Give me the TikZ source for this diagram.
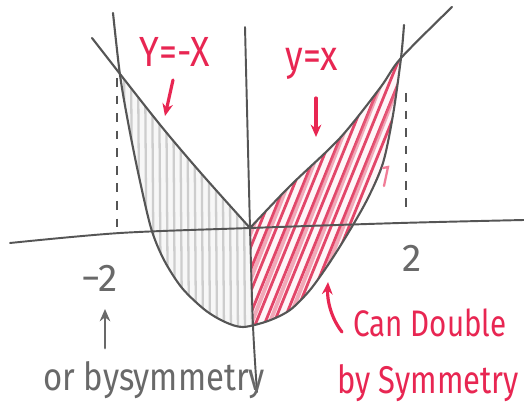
\documentclass[tikz,border=0pt]{standalone}
\usepackage{fontspec}
\setmainfont{Fira Sans}
\usetikzlibrary{arrows.meta}
\definecolor{hred}{RGB}{232,38,82}
\definecolor{ink}{RGB}{85,85,85}
\definecolor{gtext}{RGB}{105,105,105}
\definecolor{hatchg}{RGB}{205,205,205}
\definecolor{hatchr}{RGB}{222,40,80}
\tikzset{
  axisline/.style={draw=ink, line width=1.1pt, line cap=round},
  curveline/.style={draw=ink, line width=1.2pt, line cap=round},
  guide/.style={draw=ink, line width=1.1pt, dash pattern=on 5pt off 5pt},
  redlbl/.style={text=hred, inner sep=0pt},
  graylbl/.style={text=gtext, inner sep=0pt},
  redarrow/.style={draw=hred, line width=1.8pt, line cap=round, -{Stealth[length=7pt,width=6pt]}},
  grayarrow/.style={draw=gtext, line width=1.6pt, line cap=round, -{Stealth[length=7pt,width=6pt]}},
}
\begin{document}
\begin{tikzpicture}[x=0.02cm,y=-0.02cm]
\useasboundingbox (0,0) rectangle (524,411);
\fill[white] (0,0) rectangle (524,411);

% ---- gray shaded region (left) ----
\begin{scope}
  \clip plot[smooth] coordinates {(120,75) (157,121) (200,172) (250,228)}
        -- (253,326)
        -- plot[smooth] coordinates {(243,327) (225,322) (205,310) (182,288) (164,260) (151,228) (138,172) (128,122) (120,75)} -- cycle;
  \fill[black!3] (100,50) rectangle (260,340);
  \foreach \x in {124,131,...,252} {
    \draw[hatchg, line width=1.3pt] (\x,60) -- (\x+2,335);
  }
\end{scope}

% ---- red shaded region (right) ----
\begin{scope}
  \clip plot[smooth] coordinates {(250,228) (290,186) (340,138) (380,88) (401,58)}
        -- plot[smooth] coordinates {(401,58) (393,115) (383,163) (368,198) (350,230) (330,262) (310,290) (290,310) (268,321) (253,325)} -- cycle;
  \fill[hred!4] (240,40) rectangle (420,340);
  \foreach \x in {150,159,...,420} {
    \draw[hatchr, line width=1.6pt, opacity=0.85] (\x,340) -- (\x+130,20);
  }
  \foreach \x in {155,173,...,420} {
    \draw[hatchr!70!white, line width=2.2pt, opacity=0.55] (\x,340) -- (\x+125,20);
  }
\end{scope}

% ---- dashed guides ----
\coordinate (dl1) at (117,78);  \coordinate (dl2) at (117,232);
\coordinate (dr1) at (406,93);  \coordinate (dr2) at (406,214);
\draw[guide] (dl1) -- (dl2);
\draw[guide] (dr1) -- (dr2);

% ---- axes ----
\draw[axisline] plot[smooth] coordinates {(10,243) (120,233) (250,228) (400,223) (524,220)};
\draw[axisline] plot[smooth] coordinates {(245,27) (250,228) (253,326) (257,392)};

% ---- lines y=-x and y=x ----
\draw[curveline] plot[smooth] coordinates {(92,38) (157,121) (200,172) (250,228)};
\draw[curveline] plot[smooth] coordinates {(250,228) (290,186) (340,138) (380,88) (401,58) (452,7)};

% ---- parabola ----
\draw[curveline] plot[smooth] coordinates {(113,13) (120,75) (128,122) (138,172) (151,228) (164,260) (182,288) (205,310) (225,322) (243,327) (268,321) (290,310) (310,290) (330,262) (350,230) (368,198) (383,163) (393,115) (401,58) (404,25)};

% stray red mark
\draw[hred!60, line width=1.3pt, line cap=round] (383,168) -- (388,167) -- (384,186);

% ---- labels ----
\node[redlbl] (lneg) at (175,52) {\scalebox{0.85}[1]{\fontsize{24}{24}\selectfont Y=-X}};
\node[redlbl] (lpos) at (312,64) {\scalebox{0.85}[1]{\fontsize{24}{24}\selectfont y=x}};
\node[graylbl] (ltwo) at (412,258) {\fontsize{22}{22}\selectfont 2};
\node[graylbl] (lmtwo) at (100,278) {\fontsize{22}{22}\selectfont −2};
\node[graylbl] (lsym) at (154,380) {\scalebox{0.85}[1]{\fontsize{22}{22}\selectfont or bysymmetry}};
\node[redlbl] (lcan) at (430,323) {\scalebox{0.8}[1]{\fontsize{21}{21}\selectfont Can Double}};
\node[redlbl] (lby) at (428,383) {\scalebox{0.8}[1]{\fontsize{22}{22}\selectfont by Symmetry}};

% ---- arrows ----
\coordinate (a1s) at (173,80);  \coordinate (a1e) at (165,116);
\coordinate (a2s) at (316,98);  \coordinate (a2e) at (316,137);
\coordinate (a3s) at (105,348); \coordinate (a3e) at (105,309);
\coordinate (a4s) at (342,332); \coordinate (a4e) at (328,282);
\draw[redarrow] (a1s) -- (a1e);
\draw[redarrow] (a2s) -- (a2e);
\draw[grayarrow] (a3s) -- (a3e);
\draw[redarrow] (a4s) .. controls (331,318) and (327,300) .. (a4e);
\end{tikzpicture}
\end{document}
